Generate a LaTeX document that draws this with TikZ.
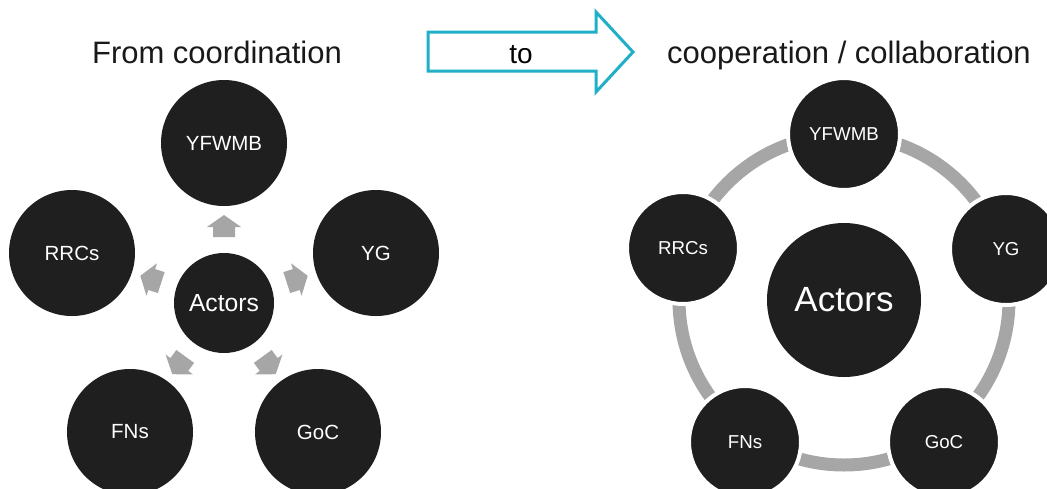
\documentclass[tikz,border=0pt]{standalone}
\usepackage{fontspec}
\setmainfont{Liberation Sans}
\definecolor{disc}{HTML}{1F1F1F}
\definecolor{arrowgray}{HTML}{A6A6A6}
\definecolor{cyanline}{HTML}{1FAFC7}
\tikzset{
  disc/.style={circle, fill=disc, text=white, inner sep=0pt},
  leftdisc/.style={disc, minimum size=126pt, font=\fontsize{20.5}{24}\selectfont},
  rightdisc/.style={disc, draw=white, line width=4pt, minimum size=112pt, font=\fontsize{18.7}{22}\selectfont},
  smallarrow/.style={fill=arrowgray},
  ringline/.style={draw=arrowgray, line width=13pt},
  title/.style={anchor=base, text=black!90, font=\fontsize{31}{36}\selectfont},
  bigarrow/.style={draw=cyanline, line width=3pt, fill=white, line join=miter}
}
\begin{document}
\begin{tikzpicture}[x=1pt,y=-1pt]
\useasboundingbox (0,0) rectangle (1047,488);

% titles
\node[title] (t1) at (217,63) {From coordination};
\node[title] (t2) at (849,63) {cooperation / collaboration};

% big arrow
\draw[bigarrow] (428,32) -- (596,32) -- (596,12) -- (633,52) -- (596,92) -- (596,71) -- (428,71) -- cycle;
\node[anchor=base, font=\fontsize{28}{32}\selectfont] (to) at (521,63) {to};

% ---- left diagram ----
\node[disc, minimum size=100pt, font=\fontsize{24.7}{28}\selectfont] (la) at (224,303) {Actors};
\node[leftdisc] (l1) at (224,143) {YFWMB};
\node[leftdisc] (l2) at (72,253) {RRCs};
\node[leftdisc] (l3) at (376,253) {YG};
\node[leftdisc] (l4) at (130,432) {FNs};
\node[leftdisc] (l5) at (318,432) {GoC};

\foreach \ang in {90,162,18,234,306}{
  \begin{scope}[shift={(la.center)}, yscale=-1, rotate=\ang-90]
    \fill[smallarrow] (-11,66) -- (11,66) -- (11,76) -- (17,76) -- (0,88) -- (-17,76) -- (-11,76) -- cycle;
  \end{scope}
}

% ---- right diagram ----
\coordinate (rc) at (844,300);
\draw[ringline] (rc) circle (165);
\node[disc, minimum size=154pt, font=\fontsize{35}{40}\selectfont] (ra) at (844,300) {Actors};
\node[rightdisc] (r1) at (844,134) {YFWMB};
\node[rightdisc] (r2) at (683,248) {RRCs};
\node[rightdisc] (r3) at (1006,249) {YG};
\node[rightdisc] (r4) at (745,442) {FNs};
\node[rightdisc] (r5) at (944,442) {GoC};
\end{tikzpicture}
\end{document}
